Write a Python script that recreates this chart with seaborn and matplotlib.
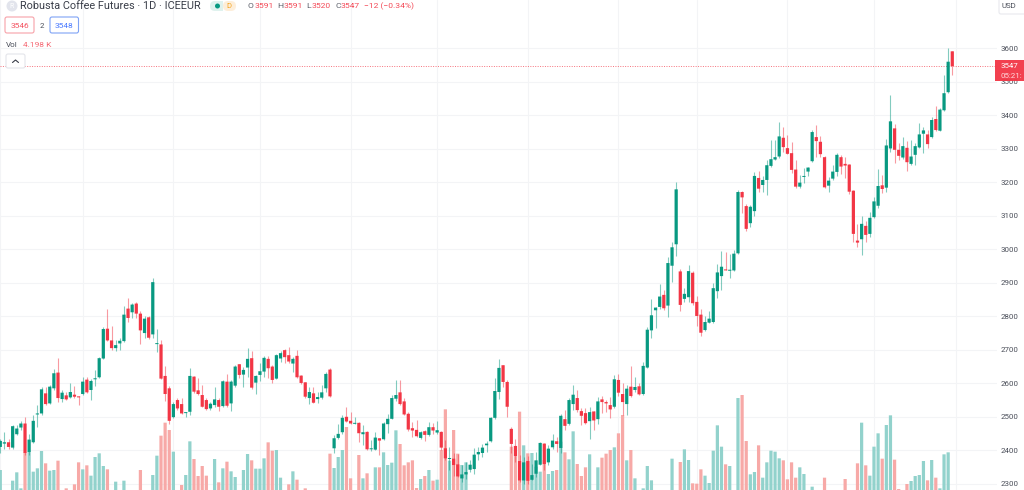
import numpy as np
import pandas as pd
import matplotlib
matplotlib.use('Agg')
import matplotlib.pyplot as plt
import seaborn as sns
from matplotlib.patches import FancyBboxPatch, Circle, Rectangle

# daily candles
opens = [
    2410,2420,2424,2408,2448,2468,2480,2395,2424,2507,
    2510,2570,2540,2585,2632,2553,2564,2558,2566,2560,
    2568,2611,2580,2612,2618,2674,2763,2728,2705,2719,
    2726,2823,2812,2838,2808,2750,2797,2746,2717,2716,
    2622,2585,2499,2550,2538,2511,2515,2620,2579,2565,
    2550,2525,2535,2550,2532,2605,2540,2593,2657,2626,
    2647,2675,2602,2625,2635,2673,2650,2614,2674,2699,
    2684,2659,2682,2623,2603,2556,2570,2553,2557,2585,
    2641,2406,2437,2454,2500,2488,2479,2482,2448,2455,
    2403,2402,2436,2433,2478,2494,2554,2573,2546,2509,
    2466,2461,2437,2457,2446,2469,2453,2455,2406,2374,
    2375,2358,2316,2328,2342,2344,2388,2392,2415,2427,
    2497,2574,2654,2604,2464,2413,2368,2310,2368,2312,
    2330,2357,2420,2364,2409,2427,2407,2493,2479,2538,
    2556,2517,2511,2487,2516,2493,2552,2544,2535,2530,
    2610,2568,2538,2590,2580,2591,2568,2647,2758,2818,
    2828,2864,2832,2951,3015,2934,2852,2857,2930,2843,
    2805,2759,2781,2783,2875,2920,2940,2936,2937,2988,
    3171,3129,3078,3114,3213,3192,3207,3249,3268,3277,
    3333,3302,3287,3238,3187,3216,3232,3263,3335,3321,
    3275,3190,3211,3231,3275,3255,3253,3175,3026,3030,
    3070,3046,3096,3130,3191,3184,3301,3361,3297,3274,
    3303,3255,3282,3304,3345,3343,3335,3389,3354,3415,
    3469,3591,
]
highs = [
    2435,2455,2435,2475,2475,2488,2500,2450,2505,2535,
    2590,2590,2595,2643,2675,2580,2575,2600,2592,2562,
    2618,2618,2612,2640,2678,2768,2823,2772,2730,2735,
    2830,2855,2840,2842,2815,2800,2800,2915,2762,2730,
    2652,2592,2545,2555,2555,2515,2645,2622,2615,2595,
    2557,2545,2588,2555,2610,2628,2610,2655,2658,2650,
    2705,2697,2625,2660,2682,2682,2655,2687,2697,2702,
    2708,2680,2700,2626,2605,2590,2590,2575,2595,2635,
    2645,2445,2480,2505,2530,2515,2500,2485,2475,2458,
    2432,2455,2438,2485,2508,2565,2610,2610,2555,2513,
    2485,2490,2457,2460,2484,2482,2488,2457,2430,2410,
    2392,2390,2355,2365,2370,2407,2410,2420,2428,2500,
    2615,2673,2655,2610,2470,2435,2385,2380,2382,2360,
    2395,2425,2422,2415,2450,2440,2507,2520,2555,2595,
    2580,2525,2525,2528,2517,2560,2562,2550,2560,2625,
    2628,2600,2595,2652,2618,2600,2665,2768,2853,2828,
    2895,2880,2977,3022,3202,2942,2885,2952,2934,2862,
    2822,2802,2817,2899,2957,2994,2991,2987,2997,3177,
    3175,3135,3132,3231,3235,3219,3267,3327,3327,3380,
    3365,3342,3321,3267,3222,3242,3247,3355,3371,3339,
    3279,3215,3252,3287,3282,3275,3255,3177,3075,3098,
    3083,3111,3155,3239,3222,3328,3461,3374,3316,3334,
    3324,3326,3318,3376,3366,3356,3394,3429,3423,3520,
    3600,3591,
]
lows = [
    2392,2405,2405,2405,2445,2460,2385,2385,2422,2470,
    2505,2535,2538,2580,2545,2545,2550,2555,2555,2535,
    2565,2570,2550,2592,2616,2672,2725,2700,2697,2700,
    2724,2783,2795,2795,2717,2735,2733,2735,2692,2612,
    2548,2478,2495,2520,2508,2498,2505,2570,2565,2528,
    2520,2520,2530,2518,2530,2530,2517,2590,2615,2590,
    2620,2582,2567,2608,2620,2615,2602,2612,2665,2662,
    2662,2634,2616,2598,2555,2537,2540,2540,2554,2575,
    2558,2392,2435,2450,2483,2478,2478,2425,2415,2400,
    2398,2400,2385,2430,2452,2492,2548,2535,2504,2457,
    2440,2440,2435,2427,2443,2450,2450,2400,2370,2340,
    2322,2320,2305,2315,2335,2330,2370,2380,2395,2425,
    2493,2552,2590,2500,2392,2365,2305,2300,2300,2310,
    2320,2355,2340,2355,2405,2395,2392,2460,2477,2520,
    2515,2475,2478,2435,2462,2480,2512,2515,2495,2526,
    2562,2505,2505,2558,2575,2564,2565,2645,2735,2765,
    2822,2818,2799,2902,2979,2817,2842,2844,2835,2772,
    2742,2755,2779,2781,2855,2879,2937,2914,2935,2986,
    3107,3055,3067,3099,3172,3172,3162,3247,3266,3274,
    3289,3284,3227,3182,3182,3197,3220,3261,3277,3275,
    3182,3172,3207,3219,3224,3212,3165,3023,3008,2983,
    3023,3036,3094,3122,3169,3172,3289,3257,3267,3269,
    3235,3252,3252,3303,3287,3301,3333,3354,3352,3413,
    3466,3520,
]
closes = [
    2428,2424,2410,2472,2465,2480,2392,2432,2488,2510,
    2582,2538,2590,2630,2556,2572,2552,2574,2560,2558,
    2605,2573,2607,2613,2675,2762,2728,2705,2714,2727,
    2805,2795,2835,2808,2758,2793,2736,2902,2719,2614,
    2568,2488,2538,2525,2510,2512,2622,2575,2568,2530,
    2523,2539,2552,2530,2606,2533,2605,2650,2625,2640,
    2673,2587,2622,2636,2676,2645,2610,2684,2690,2678,
    2665,2673,2618,2601,2560,2574,2542,2559,2573,2628,
    2561,2436,2449,2497,2486,2480,2481,2451,2454,2403,
    2405,2438,2429,2480,2494,2556,2565,2538,2507,2462,
    2459,2442,2454,2446,2469,2459,2460,2408,2376,2376,
    2356,2322,2328,2335,2357,2387,2395,2408,2420,2497,
    2577,2646,2604,2530,2419,2382,2310,2364,2309,2326,
    2370,2422,2359,2405,2429,2419,2503,2473,2550,2566,
    2520,2503,2481,2514,2489,2546,2544,2540,2522,2612,
    2572,2544,2584,2562,2589,2567,2652,2760,2803,2826,
    2859,2824,2959,3006,3179,2834,2867,2935,2839,2801,
    2751,2783,2793,2884,2931,2948,2937,2939,2987,3171,
    3155,3061,3127,3219,3181,3207,3251,3269,3275,3337,
    3305,3285,3237,3187,3199,3219,3244,3350,3323,3284,
    3185,3205,3232,3282,3247,3250,3172,3046,3020,3076,
    3043,3094,3143,3189,3180,3310,3382,3297,3279,3308,
    3260,3277,3308,3343,3355,3314,3386,3356,3417,3466,
    3560,3547,
]
# volume in relative units, the real scale is not shown in the screenshot
volumes = [
    60,0,0,28,53,5,112,115,55,65,
    117,80,58,60,88,0,5,0,17,83,
    62,74,43,99,110,72,62,0,25,0,
    28,0,0,0,60,0,0,45,103,163,
    202,180,115,0,15,45,146,93,42,72,
    43,0,93,23,65,85,56,39,0,60,
    108,89,64,64,95,143,118,120,37,0,
    17,56,31,0,5,0,0,0,0,0,
    109,66,99,120,189,35,0,105,35,50,
    0,68,68,113,75,82,179,138,74,83,
    89,6,33,42,60,28,31,120,242,88,
    180,109,75,83,0,0,0,0,0,0,
    0,0,0,0,130,100,235,134,110,111,
    70,55,90,48,57,60,145,113,92,176,
    78,42,68,107,0,68,97,109,120,128,
    170,225,89,120,35,0,5,72,29,0,
    0,0,0,94,0,84,122,90,20,19,
    62,43,21,118,194,130,77,72,0,276,
    285,147,47,54,134,37,83,118,115,95,
    89,32,83,37,68,48,0,10,0,0,
    37,0,0,0,0,33,0,0,80,202,
    74,43,130,170,94,195,224,91,3,0,
    18,27,42,45,87,29,90,37,5,107,
    113,0,
]
price_ticks = list(range(2300, 3700, 100))
month_bars = [0, 20, 42, 63, 85, 106, 128, 150, 169, 191, 212, 232]
last_price = 3547

UP = '#089981'
DOWN = '#f23645'
VOL_UP = '#92d2cc'
VOL_DOWN = '#f7a9a7'
GRID = '#f3f4f6'
TEXT = '#4a4e59'

df = pd.DataFrame({
    'idx': np.arange(len(opens)),
    'open': opens,
    'high': highs,
    'low': lows,
    'close': closes,
    'volume': volumes,
})
df['direction'] = np.where(df['close'] >= df['open'], 'up', 'down')

W, H = 1024, 490
XLIM = (-0.07, 241.85)
YLIM = (2281.5, 3744.2)

sns.set_theme(style='white')
plt.rcParams['font.family'] = ['Roboto', 'DejaVu Sans']

fig = plt.figure(figsize=(W / 100, H / 100), dpi=100, facecolor='white')
ax = fig.add_axes([0, 0, 997 / W, 1])

# volume pane, runs below the crop
axv = ax.twinx()
sns.barplot(
    data=df, x='idx', y='volume', hue='direction',
    palette={'up': VOL_UP, 'down': VOL_DOWN},
    native_scale=True, dodge=False, width=0.78, saturation=1,
    legend=False, ax=axv,
)
for p in axv.patches:
    p.set_snap(False)
    p.set_linewidth(0)
axv.set_xlim(*XLIM)
axv.set_ylim(0, 1470)
axv.axis('off')

# candles
axc = ax.twinx()
colors = df['direction'].map({'up': UP, 'down': DOWN})
axc.vlines(df['idx'], df['low'], df['high'], colors=colors, linewidth=0.8, alpha=0.5, zorder=2)
axc.bar(
    df['idx'],
    np.maximum((df['close'] - df['open']).abs(), 3),
    bottom=df[['open', 'close']].min(axis=1),
    width=0.78, color=colors, linewidth=0, zorder=3, snap=False,
)
axc.axhline(last_price, color=DOWN, linewidth=0.7, linestyle=(0, (1, 1.5)), alpha=0.7, zorder=1)
axc.set_xlim(*XLIM)
axc.set_ylim(*YLIM)
axc.axis('off')

# base axes: grid and price scale, twinx moved the ticks so set them here
ax.set_xlim(*XLIM)
ax.set_ylim(*YLIM)
ax.set_yticks(price_ticks)
ax.set_xticks(month_bars)
ax.set_xticklabels([])
ax.grid(True, color=GRID, linewidth=0.8)
ax.yaxis.tick_right()
ax.tick_params(axis='y', length=0, pad=2.4, labelsize=5.7, labelcolor=TEXT)
ax.tick_params(axis='x', length=0)
sns.despine(ax=ax, left=True, bottom=True, top=True, right=True)

# chart header and widgets, in pixel coordinates
ui = fig.add_axes([0, 0, 1, 1], zorder=10)
ui.set_xlim(0, W)
ui.set_ylim(H, 0)
ui.axis('off')
ui.patch.set_alpha(0)

ui.add_patch(Circle((12, 6), 5.5, color='#e2e4ec', lw=0))
ui.text(12, 6.2, 'R', fontsize=5, color='#ffffff', ha='center', va='center')
ui.text(20.5, 6, 'Robusta Coffee Futures · 1D · ICEEUR', fontsize=7.8, color='#3a3e49', va='center')

ui.add_patch(FancyBboxPatch((210, 1), 12, 10, boxstyle='round,pad=0,rounding_size=5', fc='#dff2ee', lw=0))
ui.add_patch(Rectangle((216, 1), 7, 10, fc='#dff2ee', lw=0))
ui.add_patch(FancyBboxPatch((223, 1), 13, 10, boxstyle='round,pad=0,rounding_size=5', fc='#fdeeda', lw=0))
ui.add_patch(Circle((217.5, 6), 2.5, color='#089981', lw=0))
ui.text(229, 6, 'D', fontsize=5.5, color='#f5a623', ha='center', va='center')

ohlc_parts = [
    (248, 'O', TEXT), (255, '3591', DOWN), (277, 'H', TEXT), (284, '3591', DOWN),
    (306.5, 'L', TEXT), (312, '3520', DOWN), (335, 'C', TEXT), (341, '3547', DOWN),
    (364, '−12 (−0.34%)', DOWN),
]
for x, label, color in ohlc_parts:
    ui.text(x, 6, label, fontsize=6.1, color=color, va='center', alpha=0.9)

ui.add_patch(FancyBboxPatch((5, 17), 29, 16, boxstyle='round,pad=0,rounding_size=2', fc='white', ec='#f7a1a8', lw=0.8))
ui.text(19.5, 25.5, '3546', fontsize=6, color=DOWN, ha='center', va='center', alpha=0.85)
ui.text(42, 25.5, '2', fontsize=5.6, color=TEXT, ha='center', va='center')
ui.add_patch(FancyBboxPatch((50, 17), 28.5, 16, boxstyle='round,pad=0,rounding_size=2', fc='white', ec='#7fa3f5', lw=0.8))
ui.text(64, 25.5, '3548', fontsize=6, color='#2962ff', ha='center', va='center', alpha=0.85)

ui.text(6, 45, 'Vol', fontsize=5.8, color=TEXT, va='center')
ui.text(23, 45, '4.198 K', fontsize=6, color=DOWN, va='center', alpha=0.75)

ui.add_patch(FancyBboxPatch((6, 54), 19, 14, boxstyle='round,pad=0,rounding_size=2', fc='white', ec='#e4e5ea', lw=0.8))
ui.plot([12.5, 15.5, 18.5], [62.5, 60, 62.5], color='#3a3e49', lw=0.8)

ui.add_patch(FancyBboxPatch((999, -4), 32, 18, boxstyle='round,pad=0,rounding_size=2', fc='white', ec='#e8e9ee', lw=0.8))
ui.text(1001.5, 6.5, 'USD', fontsize=5.7, color=TEXT, va='center')

ui.add_patch(Rectangle((995, 60), 29, 21, fc=DOWN, lw=0, alpha=0.95))
ui.text(1000.7, 65.5, '3547', fontsize=5.7, color='white', va='center')
ui.text(1000.7, 75.5, '05:21:', fontsize=5.7, color='#ffd9dc', va='center')

fig.savefig('out.png', dpi=100)
